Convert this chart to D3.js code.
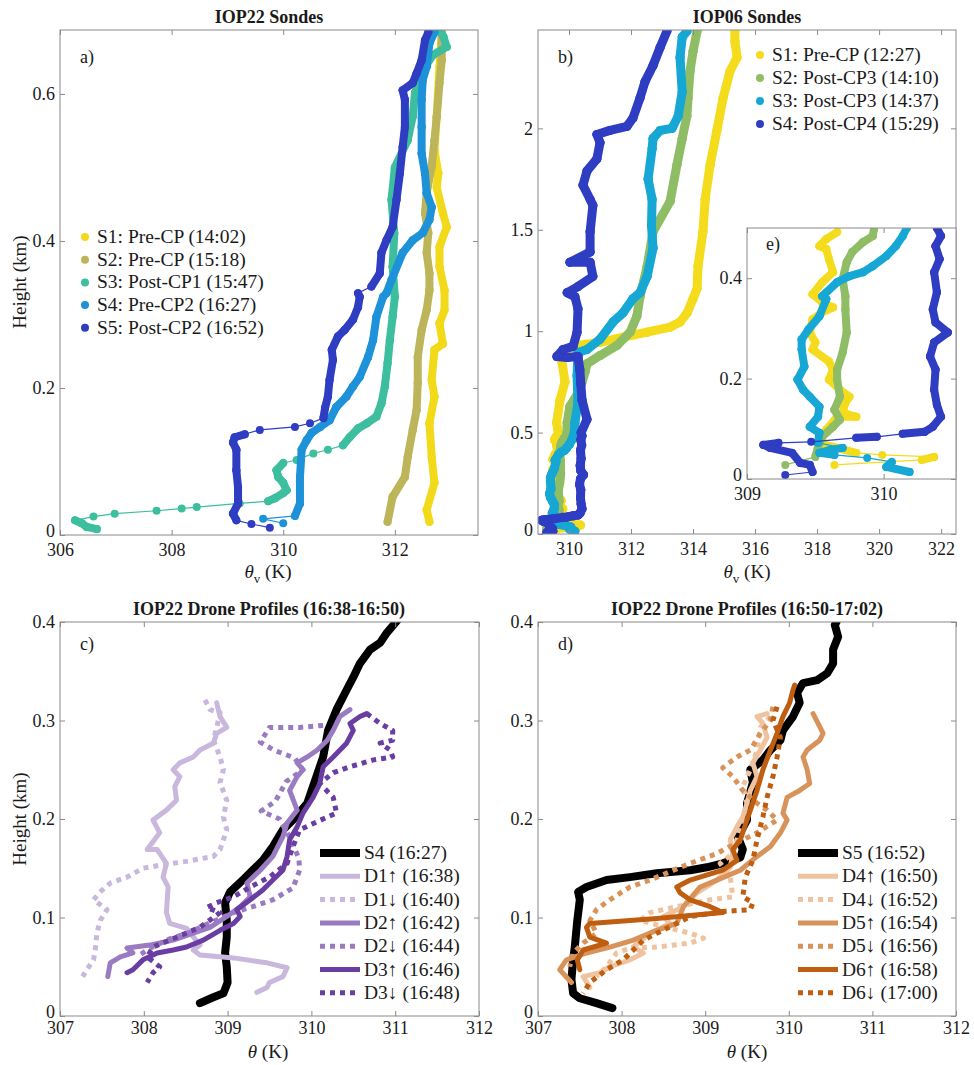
<!DOCTYPE html>
<html>
<head>
<meta charset="utf-8">
<script src="https://cdn.jsdelivr.net/npm/d3@7"></script>
<style>
  body { margin: 0; background: #fff; }
  svg { display: block; font-family: "Liberation Serif", "Times New Roman", serif; }
</style>
</head>
<body>
<div id="chart"></div>
<script>
// ---- data: [theta (K), height (km)] ----

// a) IOP22 sondes
const aNames = ['S1: Pre-CP (14:02)', 'S2: Pre-CP (15:18)', 'S3: Post-CP1 (15:47)', 'S4: Pre-CP2 (16:27)', 'S5: Post-CP2 (16:52)'];
const aColors = ['#F2DA1B', '#BDB55A', '#3DBE9F', '#1E92D8', '#2E3DC2'];
const a_S1 = [[312.62,0.018],[312.57,0.034],[312.71,0.071],[312.66,0.106],[312.62,0.152],[312.71,0.188],[312.66,0.211],[312.71,0.252],[312.86,0.26],[312.8,0.288],[312.89,0.306],[312.89,0.333],[312.8,0.365],[312.8,0.392],[312.93,0.419],[312.86,0.438],[312.75,0.473],[312.78,0.492],[312.71,0.524],[312.75,0.569],[312.8,0.637],[312.84,0.684]];
const a_S2 = [[311.87,0.018],[311.96,0.052],[312.18,0.079],[312.23,0.106],[312.32,0.143],[312.39,0.17],[312.41,0.207],[312.41,0.242],[312.48,0.279],[312.57,0.306],[312.62,0.333],[312.62,0.356],[312.57,0.384],[312.6,0.411],[312.54,0.438],[312.57,0.465],[312.66,0.501],[312.71,0.537],[312.75,0.569],[312.8,0.615],[312.84,0.646],[312.84,0.684]];
const a_S3 = [[306.66,0.008],[306.48,0.011],[306.39,0.016],[306.27,0.02],[306.6,0.025],[306.98,0.029],[307.73,0.033],[308.18,0.036],[308.45,0.038],[309.22,0.043],[309.73,0.046],[309.85,0.05],[310.0,0.057],[310.06,0.061],[310.0,0.071],[309.91,0.079],[309.88,0.088],[310.0,0.098],[310.24,0.102],[310.54,0.111],[310.8,0.116],[311.07,0.122],[311.19,0.133],[311.34,0.145],[311.5,0.152],[311.67,0.161],[311.76,0.179],[311.82,0.202],[311.87,0.234],[311.91,0.265],[311.96,0.297],[312.0,0.324],[311.96,0.365],[311.99,0.41],[311.94,0.456],[312.0,0.5],[312.23,0.537],[312.32,0.569],[312.36,0.601],[312.48,0.629],[312.68,0.653],[312.93,0.664],[312.87,0.678],[312.82,0.684]];
const a_S4 = [[310.0,0.016],[309.64,0.022],[310.21,0.026],[310.3,0.043],[310.3,0.079],[310.33,0.116],[310.42,0.129],[310.51,0.139],[310.66,0.147],[310.83,0.156],[310.95,0.174],[311.13,0.188],[311.25,0.202],[311.37,0.215],[311.52,0.242],[311.61,0.265],[311.67,0.297],[311.79,0.324],[311.85,0.329],[311.94,0.347],[312.14,0.384],[312.32,0.401],[312.5,0.411],[312.62,0.429],[312.66,0.446],[312.57,0.465],[312.54,0.492],[312.48,0.519],[312.48,0.555],[312.48,0.592],[312.5,0.619],[312.57,0.637],[312.62,0.669],[312.71,0.684]];
const a_S5 = [[309.76,0.01],[309.43,0.015],[309.16,0.02],[309.1,0.029],[309.19,0.043],[309.19,0.065],[309.16,0.088],[309.16,0.116],[309.1,0.126],[309.13,0.133],[309.31,0.137],[309.58,0.143],[310.21,0.147],[310.48,0.152],[310.72,0.159],[310.75,0.173],[310.8,0.188],[310.83,0.211],[310.89,0.238],[310.87,0.252],[310.98,0.27],[311.1,0.279],[311.25,0.293],[311.34,0.31],[311.37,0.324],[311.34,0.329],[311.58,0.338],[311.73,0.356],[311.76,0.384],[311.85,0.401],[311.96,0.419],[312.03,0.456],[312.09,0.492],[312.14,0.528],[312.18,0.555],[312.18,0.592],[312.14,0.605],[312.32,0.615],[312.39,0.628],[312.48,0.646],[312.54,0.673],[312.6,0.684]];

// b) IOP06 sondes (also shown zoomed in inset e)
const bNames = ['S1: Pre-CP (12:27)', 'S2: Post-CP3 (14:10)', 'S3: Post-CP3 (14:37)', 'S4: Post-CP4 (15:29)'];
const bColors = ['#F4DC1C', '#8FBD66', '#16A7D4', '#2E3DC2'];
const b_S1 = [[309.64,0.028],[310.28,0.038],[310.37,0.044],[309.99,0.048],[309.8,0.052],[309.66,0.062],[309.55,0.07],[309.55,0.084],[309.58,0.098],[309.66,0.124],[309.8,0.124],[309.7,0.132],[309.72,0.152],[309.75,0.164],[309.68,0.178],[309.6,0.198],[309.63,0.218],[309.6,0.234],[309.48,0.258],[309.5,0.272],[309.46,0.292],[309.48,0.318],[309.55,0.332],[309.63,0.342],[309.55,0.352],[309.48,0.368],[309.55,0.392],[309.63,0.412],[309.6,0.438],[309.58,0.458],[309.53,0.464],[309.58,0.478],[309.66,0.492],[309.6,0.55],[309.71,0.66],[309.87,0.75],[309.77,0.85],[309.81,0.9],[310.26,0.93],[311.0,0.945],[311.74,0.97],[312.52,0.995],[313.26,1.02],[313.58,1.045],[313.81,1.09],[314.0,1.16],[314.13,1.21],[314.16,1.32],[314.32,1.49],[314.39,1.65],[314.55,1.82],[314.77,1.99],[314.97,2.15],[315.19,2.28],[315.42,2.35],[315.35,2.43],[315.35,2.48]];
const b_S2 = [[309.28,0.028],[309.5,0.044],[309.52,0.064],[309.55,0.084],[309.63,0.104],[309.68,0.118],[309.64,0.138],[309.68,0.164],[309.66,0.198],[309.66,0.218],[309.7,0.252],[309.73,0.292],[309.72,0.338],[309.72,0.364],[309.7,0.398],[309.73,0.432],[309.77,0.452],[309.85,0.472],[309.92,0.484],[309.93,0.498],[309.94,0.55],[310.03,0.63],[310.35,0.71],[310.52,0.8],[310.58,0.84],[311.0,0.88],[311.55,0.93],[311.97,0.995],[312.19,1.075],[312.29,1.17],[312.52,1.32],[312.71,1.49],[313.26,1.64],[313.48,1.82],[313.65,1.95],[313.8,2.06],[313.84,2.15],[313.9,2.28],[314.0,2.38],[314.13,2.48]];
const b_S3 = [[310.19,0.014],[310.02,0.024],[310.06,0.034],[309.88,0.042],[309.64,0.048],[309.53,0.052],[309.61,0.058],[309.7,0.062],[309.52,0.072],[309.53,0.092],[309.46,0.104],[309.52,0.124],[309.53,0.144],[309.46,0.164],[309.41,0.178],[309.37,0.198],[309.42,0.224],[309.4,0.258],[309.4,0.278],[309.45,0.298],[309.53,0.324],[309.58,0.358],[309.55,0.364],[309.66,0.392],[309.75,0.404],[309.85,0.412],[309.92,0.424],[310.02,0.444],[310.09,0.464],[310.14,0.484],[310.17,0.5],[310.19,0.55],[310.29,0.65],[310.26,0.78],[310.29,0.895],[310.58,0.91],[311.0,0.96],[311.42,1.045],[311.74,1.09],[312.06,1.16],[312.29,1.19],[312.52,1.27],[312.71,1.41],[312.66,1.52],[312.68,1.65],[312.55,1.75],[312.68,1.9],[312.71,1.95],[312.94,1.99],[313.32,2.0],[313.52,2.06],[313.65,2.18],[313.58,2.35],[313.65,2.45],[313.81,2.48]];
const b_S4 = [[309.28,0.008],[309.48,0.014],[309.46,0.028],[309.39,0.032],[309.33,0.052],[309.17,0.062],[309.12,0.068],[309.23,0.072],[309.47,0.074],[309.8,0.082],[309.95,0.084],[310.14,0.09],[310.3,0.094],[310.36,0.104],[310.42,0.124],[310.39,0.148],[310.37,0.178],[310.38,0.218],[310.34,0.244],[310.37,0.272],[310.47,0.292],[310.38,0.312],[310.36,0.338],[310.39,0.372],[310.37,0.412],[310.41,0.438],[310.38,0.464],[310.42,0.484],[310.39,0.5],[310.58,0.565],[310.42,0.66],[310.38,0.74],[310.35,0.81],[310.29,0.875],[309.94,0.87],[309.61,0.875],[309.81,0.91],[310.13,0.925],[310.26,0.995],[310.29,1.11],[310.19,1.17],[309.94,1.19],[310.29,1.22],[310.77,1.27],[310.68,1.34],[310.03,1.34],[310.68,1.39],[310.68,1.49],[310.77,1.62],[310.68,1.65],[310.45,1.72],[310.58,1.79],[310.9,1.85],[311.0,1.93],[310.9,1.97],[311.32,1.99],[311.87,2.01],[312.06,2.05],[312.29,2.15],[312.45,2.23],[312.71,2.31],[312.94,2.4],[313.16,2.48]];

// c) IOP22 drone profiles 16:38-16:50
const cNames = ['S4 (16:27)', 'D1\u2191 (16:38)', 'D1\u2193 (16:40)', 'D2\u2191 (16:42)', 'D2\u2193 (16:44)', 'D3\u2191 (16:46)', 'D3\u2193 (16:48)'];
const cColors = ['#000000', '#C9B7DD', '#C9B7DD', '#9A7BC2', '#9A7BC2', '#6A3DA3', '#6A3DA3'];
const c_S4 = [[308.67,0.013],[308.83,0.019],[308.95,0.023],[309.0,0.034],[308.99,0.05],[308.97,0.064],[308.99,0.08],[308.99,0.097],[308.97,0.115],[309.03,0.126],[309.18,0.138],[309.3,0.148],[309.42,0.158],[309.54,0.172],[309.66,0.189],[309.78,0.199],[309.95,0.216],[310.06,0.243],[310.14,0.263],[310.2,0.29],[310.3,0.311],[310.42,0.331],[310.5,0.344],[310.58,0.358],[310.7,0.372],[310.82,0.379],[310.9,0.389],[311.03,0.402]];
const c_D1up = [[309.35,0.024],[309.47,0.029],[309.5,0.034],[309.66,0.04],[309.71,0.049],[309.47,0.054],[309.07,0.059],[308.67,0.062],[308.59,0.067],[308.67,0.072],[308.51,0.089],[308.31,0.094],[308.27,0.105],[308.29,0.131],[308.23,0.141],[308.27,0.155],[308.16,0.169],[308.04,0.169],[308.19,0.186],[308.11,0.199],[308.27,0.209],[308.39,0.219],[308.37,0.233],[308.43,0.243],[308.35,0.25],[308.43,0.257],[308.59,0.263],[308.67,0.27],[308.83,0.277],[308.87,0.287],[308.99,0.293],[308.91,0.304],[308.87,0.318]];
const c_D1dn = [[308.73,0.321],[308.79,0.311],[308.91,0.308],[308.87,0.293],[308.83,0.28],[308.91,0.263],[308.95,0.25],[308.91,0.237],[308.99,0.219],[308.95,0.202],[308.99,0.189],[308.91,0.169],[308.83,0.162],[308.51,0.157],[308.19,0.153],[307.99,0.15],[307.8,0.141],[307.6,0.135],[307.48,0.126],[307.4,0.118],[307.56,0.108],[307.48,0.097],[307.44,0.084],[307.42,0.067],[307.4,0.057],[307.32,0.047],[307.27,0.04]];
const c_D2up = [[307.57,0.04],[307.6,0.054],[307.72,0.06],[307.87,0.064],[307.8,0.069],[308.07,0.072],[308.35,0.077],[308.59,0.084],[308.79,0.09],[308.99,0.101],[309.15,0.111],[309.27,0.121],[309.23,0.135],[309.39,0.148],[309.54,0.162],[309.66,0.182],[309.71,0.196],[309.83,0.209],[309.74,0.229],[309.83,0.243],[309.9,0.25],[309.83,0.257],[309.95,0.263],[310.07,0.27],[310.19,0.28],[310.26,0.29],[310.34,0.304],[310.46,0.311]];
const c_D2dn = [[310.14,0.295],[309.86,0.293],[309.5,0.293],[309.39,0.278],[309.55,0.27],[309.8,0.262],[309.9,0.25],[309.7,0.238],[309.57,0.218],[309.4,0.208],[309.62,0.2],[309.75,0.18],[309.85,0.16],[309.86,0.148],[309.78,0.13],[309.54,0.118],[309.3,0.111],[309.07,0.105],[308.8,0.095],[308.55,0.085],[308.3,0.078],[308.1,0.07],[307.95,0.062]];
const c_D3up = [[307.8,0.044],[307.87,0.047],[307.99,0.057],[308.16,0.064],[308.35,0.067],[308.51,0.07],[308.71,0.077],[308.91,0.087],[309.07,0.094],[309.15,0.101],[309.11,0.108],[309.27,0.118],[309.42,0.128],[309.54,0.138],[309.66,0.148],[309.71,0.162],[309.74,0.179],[309.83,0.192],[309.9,0.206],[310.02,0.222],[310.1,0.236],[310.14,0.253],[310.26,0.263],[310.42,0.277],[310.5,0.29],[310.46,0.297],[310.58,0.304],[310.66,0.307]];
const c_D3dn = [[310.66,0.307],[310.82,0.297],[310.97,0.29],[310.97,0.28],[310.82,0.277],[310.94,0.27],[310.97,0.263],[310.74,0.26],[310.46,0.253],[310.26,0.247],[310.1,0.236],[310.26,0.222],[310.3,0.206],[310.19,0.202],[309.86,0.189],[309.78,0.172],[309.71,0.155],[309.5,0.141],[309.27,0.131],[309.07,0.121],[308.87,0.115],[308.75,0.11],[308.91,0.105],[308.67,0.09],[308.39,0.08],[308.11,0.07],[308.04,0.06],[308.19,0.05],[308.11,0.044],[308.04,0.034]];

// d) IOP22 drone profiles 16:50-17:02
const dNames = ['S5 (16:52)', 'D4\u2191 (16:50)', 'D4\u2193 (16:52)', 'D5\u2191 (16:54)', 'D5\u2193 (16:56)', 'D6\u2191 (16:58)', 'D6\u2193 (17:00)'];
const dColors = ['#000000', '#EFC39F', '#EFC39F', '#D8935A', '#D8935A', '#BF5E10', '#BF5E10'];
const d_S5 = [[307.89,0.008],[307.7,0.013],[307.5,0.018],[307.42,0.023],[307.4,0.037],[307.42,0.057],[307.44,0.07],[307.47,0.097],[307.5,0.118],[307.48,0.126],[307.58,0.131],[307.82,0.138],[308.1,0.141],[308.42,0.145],[308.82,0.148],[309.02,0.151],[309.21,0.155],[309.42,0.161],[309.45,0.169],[309.39,0.182],[309.5,0.199],[309.5,0.216],[309.57,0.237],[309.54,0.25],[309.69,0.26],[309.78,0.27],[309.9,0.28],[309.93,0.29],[310.05,0.304],[310.13,0.318],[310.1,0.328],[310.17,0.338],[310.34,0.341],[310.46,0.348],[310.53,0.358],[310.53,0.372],[310.59,0.385],[310.55,0.397],[310.57,0.4]];
const d_D4up = [[307.62,0.029],[307.54,0.04],[307.74,0.044],[307.86,0.05],[308.1,0.057],[308.26,0.064],[308.14,0.07],[308.34,0.084],[308.58,0.094],[308.5,0.101],[308.74,0.111],[308.9,0.125],[309.14,0.138],[309.3,0.151],[309.33,0.165],[309.3,0.179],[309.38,0.192],[309.45,0.202],[309.5,0.216],[309.54,0.229],[309.62,0.243],[309.57,0.257],[309.66,0.27],[309.74,0.283],[309.69,0.297],[309.62,0.304],[309.74,0.307]];
const d_D4dn = [[309.78,0.304],[309.66,0.293],[309.62,0.27],[309.54,0.25],[309.45,0.233],[309.5,0.216],[309.38,0.179],[309.33,0.165],[309.18,0.155],[309.3,0.141],[309.33,0.121],[309.06,0.118],[308.66,0.111],[308.34,0.105],[308.22,0.097],[308.82,0.084],[308.98,0.079],[308.82,0.074],[308.42,0.07],[308.1,0.069],[307.94,0.064],[307.82,0.05],[307.7,0.04]];
const d_D5up = [[307.4,0.034],[307.26,0.047],[307.34,0.057],[307.58,0.064],[307.86,0.07],[308.14,0.077],[308.42,0.087],[308.66,0.094],[308.74,0.111],[308.94,0.131],[309.14,0.138],[309.42,0.148],[309.62,0.162],[309.78,0.172],[309.9,0.186],[309.98,0.199],[309.93,0.206],[309.98,0.222],[310.13,0.229],[310.25,0.236],[310.22,0.25],[310.17,0.263],[310.22,0.27],[310.37,0.28],[310.41,0.287],[310.35,0.297],[310.29,0.307]];
const d_D5dn = [[309.81,0.314],[309.78,0.3],[309.66,0.287],[309.54,0.27],[309.38,0.263],[309.21,0.252],[309.33,0.243],[309.45,0.229],[309.62,0.216],[309.74,0.209],[309.86,0.199],[309.62,0.186],[309.38,0.176],[309.14,0.165],[308.82,0.155],[308.62,0.148],[308.34,0.138],[308.1,0.131],[307.86,0.118],[307.7,0.108],[307.62,0.097],[307.7,0.084],[307.54,0.074],[307.42,0.064],[307.38,0.05]];
const d_D6up = [[307.5,0.047],[307.47,0.057],[307.54,0.067],[307.82,0.074],[307.62,0.08],[307.58,0.09],[307.62,0.094],[308.42,0.099],[309.21,0.105],[309.06,0.111],[308.82,0.118],[308.7,0.125],[308.66,0.131],[308.82,0.138],[309.21,0.148],[309.38,0.158],[309.33,0.169],[309.42,0.179],[309.5,0.199],[309.54,0.209],[309.62,0.229],[309.69,0.25],[309.78,0.27],[309.86,0.287],[309.93,0.304],[310.01,0.318],[310.05,0.331],[310.07,0.336]];
const d_D6dn = [[309.86,0.314],[309.81,0.3],[309.9,0.283],[309.86,0.263],[309.81,0.243],[309.74,0.222],[309.69,0.202],[309.62,0.179],[309.57,0.158],[309.48,0.141],[309.45,0.121],[309.57,0.115],[309.54,0.108],[309.21,0.106],[308.82,0.101],[308.66,0.094],[308.42,0.084],[308.26,0.077],[308.14,0.067],[308.02,0.057],[307.82,0.047],[307.62,0.034],[307.54,0.023]];

// ---- drawing ----
const W = 974, H = 1065;
const FONT = '"Liberation Serif", "Times New Roman", serif';
const BOX = '#8a8a8a';
const svg = d3.select('#chart').append('svg').attr('width', W).attr('height', H);
let clipCount = 0;

function makePanel(box, xDom, yDom) {
  const x = d3.scaleLinear().domain(xDom).range([box.l, box.r]);
  const y = d3.scaleLinear().domain(yDom).range([box.b, box.t]);
  const id = 'clip' + (clipCount++);
  svg.append('clipPath').attr('id', id)
    .append('rect').attr('x', box.l).attr('y', box.t)
    .attr('width', box.r - box.l).attr('height', box.b - box.t);
  const g = svg.append('g');
  g.append('rect').attr('x', box.l).attr('y', box.t)
    .attr('width', box.r - box.l).attr('height', box.b - box.t).attr('fill', '#fff');
  const plot = g.append('g').attr('clip-path', `url(#${id})`);
  return { x, y, g, plot, box };
}

function drawAxes(p, xTicks, yTicks, xPad, size) {
  const { x, y, g, box } = p;
  const fmt = d => String(d);
  const parts = [
    g.append('g').attr('transform', `translate(0,${box.b})`)
      .call(d3.axisBottom(x).tickValues(xTicks).tickSize(-5).tickPadding(xPad).tickFormat(fmt)),
    g.append('g').attr('transform', `translate(0,${box.t})`)
      .call(d3.axisTop(x).tickValues(xTicks).tickSize(-5).tickFormat('')),
    g.append('g').attr('transform', `translate(${box.l},0)`)
      .call(d3.axisLeft(y).tickValues(yTicks).tickSize(-5).tickPadding(5).tickFormat(fmt)),
    g.append('g').attr('transform', `translate(${box.r},0)`)
      .call(d3.axisRight(y).tickValues(yTicks).tickSize(-5).tickFormat(''))
  ];
  parts.forEach(a => {
    a.attr('font-family', FONT).attr('font-size', size);
    a.select('.domain').remove();
    a.selectAll('.tick line').attr('stroke', BOX);
    a.selectAll('.tick text').attr('fill', '#1a1a1a');
  });
  // lift the bottom-most y label a little so it clears the x labels
  parts[2].selectAll('.tick text').filter(d => d === 0).attr('dy', '0.1em');
  g.append('rect').attr('x', box.l).attr('y', box.t)
    .attr('width', box.r - box.l).attr('height', box.b - box.t)
    .attr('fill', 'none').attr('stroke', BOX).attr('stroke-width', 1);
}

// sonde profiles: dots joined by a thin line; densely sampled stretches read as a thick band
function drawSonde(p, data, color, r, dense) {
  const { x, y, plot } = p;
  const grp = plot.append('g');
  grp.selectAll('line').data(d3.pairs(data)).join('line')
    .attr('x1', d => x(d[0][0])).attr('y1', d => y(d[0][1]))
    .attr('x2', d => x(d[1][0])).attr('y2', d => y(d[1][1]))
    .attr('stroke', color).attr('stroke-linecap', 'round')
    .attr('stroke-width', d => {
      const dx = x(d[1][0]) - x(d[0][0]), dy = y(d[1][1]) - y(d[0][1]);
      return dense(dx, dy) ? 2 * r : 1.2;
    });
  grp.selectAll('circle').data(data).join('circle')
    .attr('cx', d => x(d[0])).attr('cy', d => y(d[1])).attr('r', r).attr('fill', color);
}

function drawProfile(p, data, color, width, dotted) {
  const line = d3.line().x(d => p.x(d[0])).y(d => p.y(d[1]));
  p.plot.append('path').datum(data).attr('d', line)
    .attr('fill', 'none').attr('stroke', color).attr('stroke-width', width)
    .attr('stroke-linejoin', 'round')
    .attr('stroke-linecap', dotted ? 'butt' : 'round')
    .attr('stroke-dasharray', dotted ? '5,5' : null);
}

function text(x, y, str, opts = {}) {
  return svg.append('text').attr('x', x).attr('y', y)
    .attr('font-family', FONT).attr('font-size', opts.size || 18)
    .attr('font-weight', opts.bold ? 'bold' : 'normal')
    .attr('text-anchor', opts.anchor || 'start').attr('fill', '#1a1a1a').text(str);
}

function yLabel(x, y, str) {
  svg.append('text').attr('transform', `translate(${x},${y}) rotate(-90)`)
    .attr('font-family', FONT).attr('font-size', 19).attr('text-anchor', 'middle')
    .attr('fill', '#1a1a1a').text(str);
}

function thetaLabel(cx, y, sub) {
  const t = svg.append('text').attr('x', cx).attr('y', y)
    .attr('font-family', FONT).attr('font-size', 19).attr('text-anchor', 'middle').attr('fill', '#1a1a1a');
  t.append('tspan').attr('font-style', 'italic').text('\u03B8');
  if (sub) t.append('tspan').attr('font-size', 13).attr('dy', 5).text('v');
  t.append('tspan').attr('dy', sub ? -5 : 0).text(' (K)');
}

function sondeLegend(x, y0, step, names, colors) {
  names.forEach((n, i) => {
    const cy = y0 + i * step;
    svg.append('circle').attr('cx', x).attr('cy', cy).attr('r', 4).attr('fill', colors[i]);
    text(x + 12, cy + 6, n, { size: 19.5 });
  });
}

function lineLegend(x, y0, step, names, colors) {
  names.forEach((n, i) => {
    const cy = y0 + i * step;
    svg.append('line').attr('x1', x).attr('x2', x + 40).attr('y1', cy).attr('y2', cy)
      .attr('stroke', colors[i]).attr('stroke-width', i === 0 ? 8 : 5)
      .attr('stroke-dasharray', i % 2 === 0 && i > 0 ? '5,5' : null);
    text(x + 44, cy + 6, n, { size: 19.5 });
  });
}

// a) IOP22 Sondes
const pa = makePanel({ l: 60, r: 478, t: 30, b: 535 }, [306, 313.49], [0, 0.687]);
const denseA = (dx, dy) => Math.hypot(dx, dy) < 12 || (Math.abs(dy) >= 0.5 * Math.abs(dx) && Math.hypot(dx, dy) < 60);
[a_S1, a_S2, a_S3, a_S4, a_S5].forEach((s, i) => drawSonde(pa, s, aColors[i], 4, denseA));
drawAxes(pa, [306, 308, 310, 312], [0, 0.2, 0.4, 0.6], 8, 18);
text(269, 23, 'IOP22 Sondes', { bold: true, anchor: 'middle' });
text(80, 63, 'a)');
sondeLegend(85, 237, 22.7, aNames, aColors);
yLabel(26, 282, 'Height (km)');
thetaLabel(268, 578, true);

// b) IOP06 Sondes
const pb = makePanel({ l: 538, r: 956, t: 30, b: 534 }, [309, 322.48], [0, 2.485]);
const denseB = (dx, dy) => Math.hypot(dx, dy) < 40;
const bSeries = [b_S1, b_S2, b_S3, b_S4];
bSeries.forEach((s, i) => drawSonde(pb, s, bColors[i], 4.5, denseB));
drawAxes(pb, [310, 312, 314, 316, 318, 320, 322], [0, 0.5, 1, 1.5, 2], 8, 18);
text(747, 23, 'IOP06 Sondes', { bold: true, anchor: 'middle' });
text(558, 63, 'b)');
sondeLegend(760, 55, 23, bNames, bColors);
thetaLabel(747, 578, true);

// e) inset: lowest 0.5 km of b
const pe = makePanel({ l: 747, r: 956, t: 228, b: 479 }, [309, 310.53], [0, 0.5]);
const denseE = (dx, dy) => Math.hypot(dx, dy) < 24;
bSeries.forEach((s, i) => drawSonde(pe, s, bColors[i], 4, denseE));
drawAxes(pe, [309, 310], [0, 0.2, 0.4], 8, 18);
text(766, 250, 'e)');

// c) drone profiles 16:38-16:50
const pc = makePanel({ l: 60, r: 479, t: 622, b: 1016 }, [307, 312], [0, 0.4]);
[c_S4, c_D1up, c_D1dn, c_D2up, c_D2dn, c_D3up, c_D3dn].forEach((s, i) =>
  drawProfile(pc, s, cColors[i], i === 0 ? 8 : 5, i % 2 === 0 && i > 0));
drawAxes(pc, [307, 308, 309, 310, 311, 312], [0, 0.1, 0.2, 0.3, 0.4], 5, 18);
text(269, 615, 'IOP22 Drone Profiles (16:38-16:50)', { bold: true, anchor: 'middle' });
text(80, 650, 'c)');
lineLegend(320, 853, 23.3, cNames, cColors);
yLabel(26, 819, 'Height (km)');
thetaLabel(268, 1058, false);

// d) drone profiles 16:50-17:02
const pd = makePanel({ l: 538, r: 956, t: 622, b: 1016 }, [307, 312], [0, 0.4]);
[d_S5, d_D4up, d_D4dn, d_D5up, d_D5dn, d_D6up, d_D6dn].forEach((s, i) =>
  drawProfile(pd, s, dColors[i], i === 0 ? 8 : 5, i % 2 === 0 && i > 0));
drawAxes(pd, [307, 308, 309, 310, 311, 312], [0, 0.1, 0.2, 0.3, 0.4], 5, 18);
text(747, 615, 'IOP22 Drone Profiles (16:50-17:02)', { bold: true, anchor: 'middle' });
text(558, 650, 'd)');
lineLegend(798, 853, 23.3, dNames, dColors);
thetaLabel(747, 1058, false);
</script>
</body>
</html>
